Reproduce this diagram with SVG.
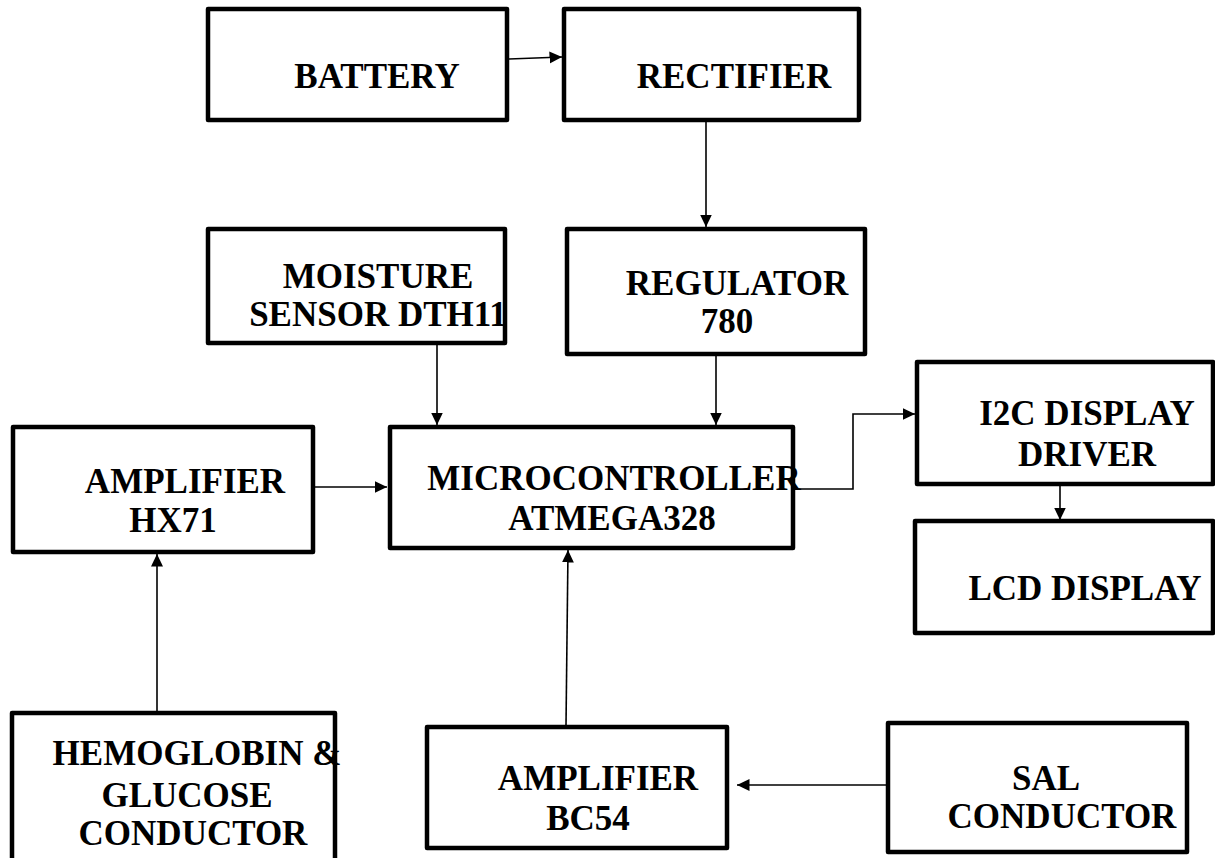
<svg xmlns="http://www.w3.org/2000/svg" width="1215" height="858" viewBox="0 0 1215 858">
<style>
.box{fill:#fff;stroke:#000;stroke-width:4.5;stroke-linejoin:round}
.lbl{font-family:"Liberation Serif","Times New Roman",Tinos,serif;font-weight:bold;font-size:35px;fill:#000;text-anchor:middle}
.conn{fill:none;stroke:#000;stroke-width:1.6}
</style>
<defs>
<marker id="arr" markerUnits="userSpaceOnUse" markerWidth="13" markerHeight="13" refX="12.5" refY="6" orient="auto">
<path d="M0,0 L12.5,6 L0,12 z" fill="#000"/>
</marker>
</defs>
<rect width="1215" height="858" fill="#fff"/>
<g id="connectors">
<line class="conn" x1="509" y1="59" x2="562" y2="57" marker-end="url(#arr)"/>
<line class="conn" x1="706" y1="122" x2="706" y2="227" marker-end="url(#arr)"/>
<line class="conn" x1="437" y1="345" x2="437" y2="425" marker-end="url(#arr)"/>
<line class="conn" x1="716" y1="356" x2="716" y2="425" marker-end="url(#arr)"/>
<line class="conn" x1="315" y1="487" x2="387" y2="487" marker-end="url(#arr)"/>
<line class="conn" x1="157" y1="711" x2="157" y2="554" marker-end="url(#arr)"/>
<line class="conn" x1="566" y1="725" x2="568" y2="550" marker-end="url(#arr)"/>
<line class="conn" x1="886" y1="785" x2="737" y2="785" marker-end="url(#arr)"/>
<polyline class="conn" points="795,489 853,489 853,414 915,414" marker-end="url(#arr)"/>
<line class="conn" x1="1060" y1="486" x2="1060" y2="520" marker-end="url(#arr)"/>
</g>
<g id="battery">
<rect class="box" x="208" y="9" width="299" height="111"/>
<text class="lbl" x="377" y="88">BATTERY</text>
</g>
<g id="rectifier">
<rect class="box" x="564" y="9" width="295" height="111"/>
<text class="lbl" x="734" y="88">RECTIFIER</text>
</g>
<g id="moisture">
<rect class="box" x="208" y="229" width="297" height="114"/>
<text class="lbl" x="378" y="288">MOISTURE</text>
<text class="lbl" x="378" y="326">SENSOR DTH11</text>
</g>
<g id="regulator">
<rect class="box" x="567" y="229" width="298" height="125"/>
<text class="lbl" x="737" y="295">REGULATOR</text>
<text class="lbl" x="727" y="333">780</text>
</g>
<g id="microcontroller">
<rect class="box" x="390" y="427" width="403" height="121"/>
<text class="lbl" x="614" y="490">MICROCONTROLLER</text>
<text class="lbl" x="612" y="530">ATMEGA328</text>
</g>
<g id="amplifier-hx71">
<rect class="box" x="13" y="427" width="300" height="125"/>
<text class="lbl" x="185" y="493">AMPLIFIER</text>
<text class="lbl" x="173" y="532">HX71</text>
</g>
<g id="i2c-driver">
<rect class="box" x="917" y="362" width="296" height="122"/>
<text class="lbl" x="1087" y="425">I2C DISPLAY</text>
<text class="lbl" x="1087" y="466">DRIVER</text>
</g>
<g id="lcd-display">
<rect class="box" x="915" y="521" width="298" height="112"/>
<text class="lbl" x="1085" y="600">LCD DISPLAY</text>
</g>
<g id="hemoglobin">
<rect class="box" x="12" y="713" width="323" height="150"/>
<text class="lbl" x="197" y="765">HEMOGLOBIN &amp;</text>
<text class="lbl" x="187" y="807">GLUCOSE</text>
<text class="lbl" x="193" y="845">CONDUCTOR</text>
</g>
<g id="amplifier-bc54">
<rect class="box" x="427" y="727" width="300" height="121"/>
<text class="lbl" x="598" y="790">AMPLIFIER</text>
<text class="lbl" x="588" y="830">BC54</text>
</g>
<g id="sal-conductor">
<rect class="box" x="888" y="723" width="299" height="129"/>
<text class="lbl" x="1046" y="790">SAL</text>
<text class="lbl" x="1062" y="828">CONDUCTOR</text>
</g>
</svg>
